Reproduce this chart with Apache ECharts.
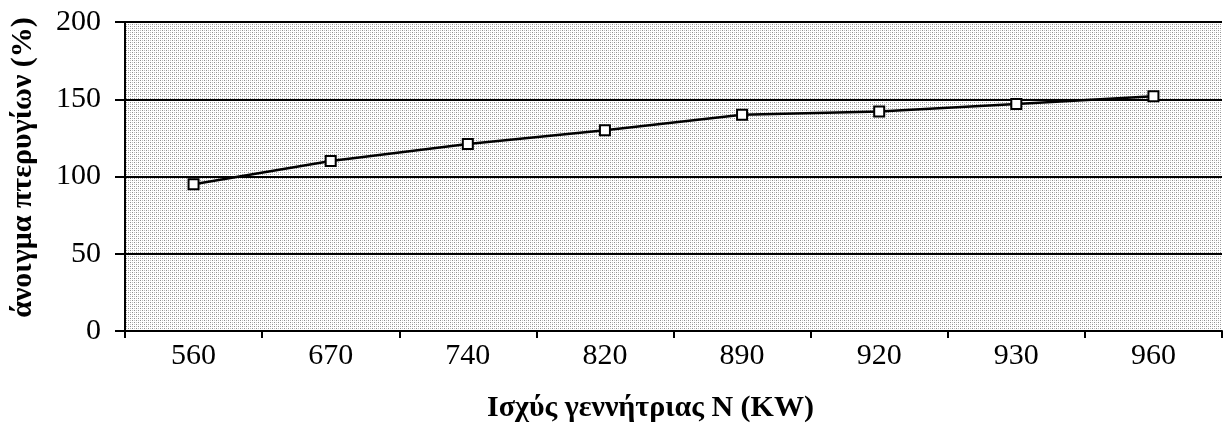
<!DOCTYPE html>
<html>
<head>
<meta charset="utf-8">
<script src="https://cdn.jsdelivr.net/npm/echarts@6/dist/echarts.min.js"></script>
<style>
html,body{margin:0;padding:0;background:#fff;}
#chart{width:1224px;height:443px;}
</style>
</head>
<body>
<div id="chart"></div>
<script>
const categories = ['560', '670', '740', '820', '890', '920', '930', '960'];
const values = [95, 110, 121, 130, 140, 142, 147, 152];
const yTicks = [0, 50, 100, 150, 200];
const xTitle = 'Ισχύς γεννήτριας Ν (KW)';
const yTitle = 'άνοιγμα πτερυγίων (%)';

// decorative dithered background texture
const pc = document.createElement('canvas');
pc.width = 4; pc.height = 4;
const pctx = pc.getContext('2d');
pctx.fillStyle = '#ffffff';
pctx.fillRect(0, 0, 4, 4);
pctx.fillStyle = '#8f8f8f';
pctx.fillRect(0, 0, 1, 1);
pctx.fillRect(2, 2, 1, 1);
pctx.fillStyle = '#c0c0c0';
pctx.fillRect(2, 0, 1, 1);
pctx.fillRect(0, 2, 1, 1);

const font = '"Liberation Serif", "Times New Roman", serif';
const chart = echarts.init(document.getElementById('chart'));
chart.setOption({
  animation: false,
  backgroundColor: '#ffffff',
  grid: {
    left: 124, right: 2, top: 22, bottom: 112,
    show: true,
    backgroundColor: { image: pc, repeat: 'repeat' },
    borderWidth: 0
  },
  xAxis: {
    type: 'category',
    data: categories,
    boundaryGap: true,
    name: xTitle,
    nameLocation: 'middle',
    nameGap: 62,
    nameTextStyle: { fontFamily: font, fontSize: 30, fontWeight: 'bold', color: '#000', padding: [0, 46, 0, 0] },
    axisLine: { lineStyle: { color: '#000', width: 2 } },
    axisTick: { show: true, alignWithLabel: false, length: 7, lineStyle: { color: '#000', width: 2 } },
    axisLabel: { fontFamily: font, fontSize: 30, color: '#000', margin: 10 },
    splitLine: { show: false }
  },
  yAxis: {
    type: 'value',
    min: 0, max: 200, interval: 50,
    name: yTitle,
    nameLocation: 'middle',
    nameGap: 87,
    nameRotate: 90,
    nameTextStyle: { fontFamily: font, fontSize: 30, fontWeight: 'bold', color: '#000', padding: [0, 0, 0, 18] },
    axisLine: { show: true, lineStyle: { color: '#000', width: 2 } },
    axisTick: { show: true, length: 10, lineStyle: { color: '#000', width: 2 } },
    axisLabel: {
      fontFamily: font, fontSize: 30, color: '#000', margin: 24,
      formatter: function (v) { return yTicks.indexOf(v) >= 0 ? String(v) : ''; }
    },
    splitLine: { show: true, lineStyle: { color: '#000', width: 2 } }
  },
  series: [{
    type: 'line',
    data: values,
    symbol: 'rect',
    symbolSize: 10,
    showAllSymbol: true,
    lineStyle: { color: '#000', width: 2.5 },
    itemStyle: { color: '#fff', borderColor: '#000', borderWidth: 2 }
  }]
});
</script>
</body>
</html>
